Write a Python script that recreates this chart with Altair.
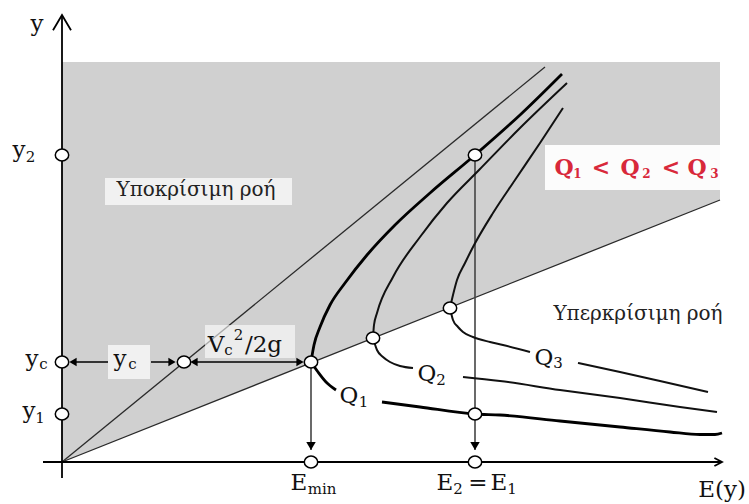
import altair as alt
import pandas as pd

# ---- specific energy diagram E(y) for three discharges (schematic units) ----

# shaded sub-critical region: between the critical line and the top edge
shade_E = [0.0, 65.8]
shade_low = [0.0, 26.2]
shade_top = [40.0, 40.0]

# guide line y = E and critical-depth line
line_E_E = [0.0, 48.3]
line_E_y = [0.0, 39.5]
crit_E = [0.0, 65.8]
crit_y = [0.0, 26.2]

# Q1 branches
q1_up_E = [24.9, 25.2, 25.8, 26.8, 28.3, 30.5, 33.3, 36.8, 41.3, 45.8, 50.0]
q1_up_y = [10.0, 11.7, 13.5, 15.7, 17.9, 20.7, 23.7, 26.9, 30.7, 34.7, 38.8]
q1_lo1_E = [24.9, 25.6, 26.4, 27.4]
q1_lo1_y = [10.0, 9.0, 8.0, 7.2]
q1_lo2_E = [32.0, 35.8, 41.3, 43.8, 49.8, 55.8, 60.8, 63.8, 65.3, 66.0]
q1_lo2_y = [6.0, 5.5, 4.8, 4.7, 4.1, 3.5, 3.0, 2.75, 2.75, 2.9]

# Q2 branches
q2_up_E = [31.1, 31.2, 31.5, 33.1, 35.8, 38.5, 41.7, 45.8, 50.5]
q2_up_y = [12.4, 13.7, 14.9, 18.5, 22.5, 25.9, 29.2, 33.4, 37.9]
q2_lo1_E = [31.1, 31.5, 32.1, 32.8, 33.8, 35.1]
q2_lo1_y = [12.4, 11.2, 10.5, 10.0, 9.6, 9.4]
q2_lo2_E = [40.1, 43.8, 49.8, 55.8, 61.8, 65.5]
q2_lo2_y = [8.5, 8.1, 7.2, 6.4, 5.5, 5.0]

# Q3 branches
q3_up_E = [38.8, 39.1, 39.5, 40.3, 41.1, 43.1, 45.3, 47.8, 50.1]
q3_up_y = [15.4, 16.7, 18.2, 19.9, 21.5, 24.9, 28.2, 31.9, 35.4]
q3_lo1_E = [38.8, 39.1, 39.6, 40.1, 41.1, 42.8, 44.1, 46.8]
q3_lo1_y = [15.4, 14.2, 13.5, 13.0, 12.5, 12.0, 11.7, 11.0]
q3_lo2_E = [51.6, 55.8, 59.8, 64.6]
q3_lo2_y = [9.9, 9.0, 8.1, 7.0]

# marked states (open circles)
pt_E = [0.0, 0.0, 0.0, 12.2, 24.9, 31.1, 38.8, 41.3, 41.3, 24.9, 41.3]
pt_y = [30.7, 10.0, 4.8, 10.0, 10.0, 12.4, 15.4, 30.7, 4.8, 0.0, 0.0]

# projections down to the E axis
drop_E = [24.9, 41.3]
drop_top = [10.0, 30.7]
drop_bot = [1.2, 1.2]
drop_head_y = [1.6, 1.6]

# dimension line at y = yc
dim_x1 = [1.0, 8.9, 13.1]
dim_x2 = [4.6, 11.2, 23.8]
dim_y = [10.0, 10.0, 10.0]
dim_head_E = [1.1, 11.0, 13.2, 23.8]
dim_head_shape = ["triangle-left", "triangle-right", "triangle-left", "triangle-right"]

# white backing behind labels
box_x1 = [48.3, 4.3, 4.6, 14.3]
box_x2 = [66.8, 23.0, 8.8, 23.3]
box_y1 = [27.2, 25.7, 8.3, 10.4]
box_y2 = [31.7, 28.4, 11.7, 13.7]
box_op = [0.92, 0.7, 0.7, 0.6]

# text: main glyphs
lab_t = ["y", "y", "y", "y", "y", "V", "/2g", "Q", "Q", "Q", "E", "E", "=", "E", "E(y)"]
lab_E = [-2.5, -4.3, -3.0, -3.3, 5.8, 15.4, 20.15, 28.7, 36.5, 48.2, 23.7, 38.3, 41.6, 43.7, 66.0]
lab_y = [43.1, 30.5, 9.6, 4.4, 9.6, 11.0, 11.0, 5.9, 8.1, 9.7, -2.8, -2.8, -2.8, -2.8, -3.5]

# text: sub/superscripts
sub_t = ["2", "c", "1", "c", "c", "2", "1", "2", "3", "min", "2", "1"]
sub_E = [-3.15, -1.85, -2.2, 7.05, 16.65, 17.65, 30.15, 37.9, 49.6, 26.0, 39.6, 45.0]
sub_y = [30.0, 9.3, 3.9, 9.3, 10.7, 12.2, 5.5, 7.7, 9.4, -3.2, -3.2, -3.2]

# region names
reg_t = ["Υποκρίσιμη ροή", "Υπερκρίσιμη ροή"]
reg_E = [13.4, 57.6]
reg_y = [26.6, 14.2]

# ordering of discharges
ord_t = ["Q", "<", "Q", "<", "Q"]
ord_E = [50.2, 53.9, 56.8, 60.9, 63.5]
ord_y = [28.7, 28.7, 28.7, 28.7, 28.7]
ord_sub_t = ["1", "2", "3"]
ord_sub_E = [51.55, 58.45, 65.25]
ord_sub_y = [28.4, 28.4, 28.4]

FONT = "DejaVu Serif"
RED = "#d8283a"

XS = alt.Scale(domain=[-6.2, 68.7], nice=False, zero=False)
YS = alt.Scale(domain=[-4.2, 46.2], nice=False, zero=False)


def X(f):
    return alt.X(f"{f}:Q", scale=XS, axis=None)


def Y(f):
    return alt.Y(f"{f}:Q", scale=YS, axis=None)


def curve_df(parts):
    rows = []
    for name, es, ys in parts:
        for k, (e, v) in enumerate(zip(es, ys)):
            rows.append({"seg": name, "k": k, "E": e, "y": v})
    return pd.DataFrame(rows)


shade = alt.Chart(pd.DataFrame({"E": shade_E, "lo": shade_low, "hi": shade_top})).mark_area(
    color="#d0d0d0", opacity=1
).encode(x=X("E"), y=Y("hi"), y2="lo:Q")

boxes = alt.Chart(pd.DataFrame({"x1": box_x1, "x2": box_x2, "y1": box_y1, "y2": box_y2, "op": box_op})).mark_rect(
    color="white"
).encode(x=X("x1"), x2="x2:Q", y=Y("y1"), y2="y2:Q", opacity=alt.Opacity("op:Q", scale=None))

guides = alt.Chart(curve_df([("eq", line_E_E, line_E_y), ("crit", crit_E, crit_y)])).mark_line(
    color="#2a2a2a", strokeWidth=1.3
).encode(x=X("E"), y=Y("y"), detail="seg:N", order="k:Q")

drops = alt.Chart(pd.DataFrame({"E": drop_E, "t": drop_top, "b": drop_bot})).mark_rule(
    color="#444444", strokeWidth=1.6
).encode(x=X("E"), y=Y("t"), y2="b:Q")

drop_heads = alt.Chart(pd.DataFrame({"E": drop_E, "y": drop_head_y})).mark_point(
    shape="triangle-down", filled=True, color="black", size=90, opacity=1
).encode(x=X("E"), y=Y("y"))

dims = alt.Chart(pd.DataFrame({"a": dim_x1, "b": dim_x2, "y": dim_y})).mark_rule(
    color="black", strokeWidth=1.5
).encode(x=X("a"), x2="b:Q", y=Y("y"))

dim_heads = alt.Chart(pd.DataFrame({"E": dim_head_E, "y": [10.0] * 4, "s": dim_head_shape})).mark_point(
    filled=True, color="black", size=70, opacity=1
).encode(x=X("E"), y=Y("y"), shape=alt.Shape("s:N", scale=None))

q1 = alt.Chart(curve_df([("u", q1_up_E, q1_up_y), ("a", q1_lo1_E, q1_lo1_y), ("b", q1_lo2_E, q1_lo2_y)])).mark_line(
    color="black", strokeWidth=2.8, interpolate="monotone"
).encode(x=X("E"), y=Y("y"), detail="seg:N", order="k:Q")

q23 = alt.Chart(curve_df([
    ("2u", q2_up_E, q2_up_y), ("2a", q2_lo1_E, q2_lo1_y), ("2b", q2_lo2_E, q2_lo2_y),
    ("3u", q3_up_E, q3_up_y), ("3a", q3_lo1_E, q3_lo1_y), ("3b", q3_lo2_E, q3_lo2_y),
])).mark_line(color="#111111", strokeWidth=2.0, interpolate="monotone").encode(
    x=X("E"), y=Y("y"), detail="seg:N", order="k:Q"
)

axes = alt.Chart(pd.DataFrame({"a": [0.0, -1.9], "b": [0.0, 66.0], "c": [-1.6, 0.0], "d": [44.7, 0.0]})).mark_rule(
    color="black", strokeWidth=1.8
).encode(x=X("a"), x2="b:Q", y=Y("c"), y2="d:Q")

chev_up = alt.Chart(pd.DataFrame({"E": [0.0], "y": [44.7]})).mark_point(
    shape="M-1,1.7L0,0L1,1.7", filled=False, color="black", strokeWidth=1.8, size=324, opacity=1
).encode(x=X("E"), y=Y("y"))
chev_right = alt.Chart(pd.DataFrame({"E": [66.0], "y": [0.0]})).mark_point(
    shape="M-1.9,-1L0,0L-1.9,1", filled=False, color="black", strokeWidth=1.8, size=64, opacity=1
).encode(x=X("E"), y=Y("y"))

points = alt.Chart(pd.DataFrame({"E": pt_E, "y": pt_y})).mark_point(
    shape="M-1,0A1,0.88,0,1,0,1,0A1,0.88,0,1,0,-1,0Z",
    filled=True, fill="white", stroke="black", strokeWidth=1.5, size=180, opacity=1
).encode(x=X("E"), y=Y("y"))

labels = alt.Chart(pd.DataFrame({"t": lab_t, "E": lab_E, "y": lab_y})).mark_text(
    font=FONT, fontSize=23, baseline="alphabetic", align="center", color="#111111"
).encode(x=X("E"), y=Y("y"), text="t:N")

subs = alt.Chart(pd.DataFrame({"t": sub_t, "E": sub_E, "y": sub_y})).mark_text(
    font=FONT, fontSize=15, baseline="alphabetic", align="center", color="#111111"
).encode(x=X("E"), y=Y("y"), text="t:N")

regions = alt.Chart(pd.DataFrame({"t": reg_t, "E": reg_E, "y": reg_y})).mark_text(
    font=FONT, fontSize=20, baseline="alphabetic", align="center", color="#222222"
).encode(x=X("E"), y=Y("y"), text="t:N")

order_lab = alt.Chart(pd.DataFrame({"t": ord_t, "E": ord_E, "y": ord_y})).mark_text(
    font=FONT, fontSize=22, fontWeight="bold", baseline="alphabetic", align="center", color=RED
).encode(x=X("E"), y=Y("y"), text="t:N")

order_sub = alt.Chart(pd.DataFrame({"t": ord_sub_t, "E": ord_sub_E, "y": ord_sub_y})).mark_text(
    font=FONT, fontSize=12, fontWeight="bold", baseline="alphabetic", align="center", color=RED
).encode(x=X("E"), y=Y("y"), text="t:N")

chart = alt.layer(
    shade, guides, boxes, drops, dims, q23, q1, axes, chev_up, chev_right,
    drop_heads, dim_heads, points, labels, subs, regions, order_lab, order_sub,
).properties(
    width=749, height=504, autosize=alt.AutoSizeParams(type="none"), padding=0, background="white"
).configure_view(stroke=None)

chart.save("out.html", embed_options={"renderer": "svg", "actions": False})
